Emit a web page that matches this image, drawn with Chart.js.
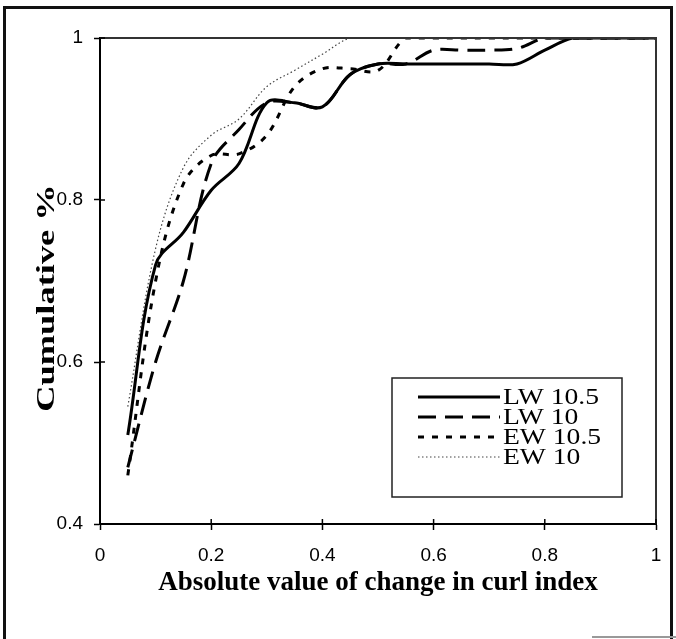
<!DOCTYPE html>
<html>
<head>
<meta charset="utf-8">
<script src="https://cdn.jsdelivr.net/npm/chart.js@4.4.1/dist/chart.umd.min.js"></script>
<style>
  html, body { margin: 0; padding: 0; background: #fff; }
  #wrap { position: relative; width: 676px; height: 639px; overflow: hidden; }
  #frame { position: absolute; left: 3px; top: 6px; width: 670px; height: 700px; border: 3px solid #111; box-sizing: border-box; }
  #scrap { position: absolute; left: 592px; top: 636px; width: 84px; height: 2px; background: #999; }
  canvas { position: absolute; left: 0; top: 0; }
</style>
</head>
<body>
<div id="wrap">
  <div id="frame"></div>
  <div id="scrap"></div>
  <canvas id="chartCanvas" width="676" height="639"></canvas>
</div>
<script>
// change in curl index (x) and cumulative share for each sample
const xValues = [0.05, 0.1, 0.15, 0.2, 0.25, 0.3, 0.35, 0.4, 0.45, 0.5, 0.55, 0.6, 0.65, 0.7, 0.75, 0.8, 0.85, 0.9, 0.95, 1.0];
const lw105 = [0.51, 0.72, 0.76, 0.812, 0.845, 0.92, 0.92, 0.915, 0.955, 0.968, 0.968, 0.968, 0.968, 0.968, 0.968, 0.985, 1, 1, 1, 1];
const lw10 = [0.47, 0.60, 0.70, 0.845, 0.887, 0.92, 0.92, 0.915, 0.955, 0.968, 0.968, 0.985, 0.985, 0.985, 0.987, 1, 1, 1, 1, 1];
const ew105 = [0.46, 0.70, 0.82, 0.855, 0.857, 0.88, 0.94, 0.962, 0.962, 0.96, 1, 1, 1, 1, 1, 1, 1, 1, 1, 1];
const ew10 = [0.545, 0.74, 0.84, 0.88, 0.90, 0.94, 0.96, 0.98, 1, 1, 1, 1, 1, 1, 1, 1, 1, 1, 1, 1];

const seriesNames = ["LW 10.5", "LW 10", "EW 10.5", "EW 10"];
const xTitle = "Absolute value of change in curl index";
const yTitle = "Cumulative %";

function toPoints(ys) {
    return xValues.map((x, i) => ({ x: x, y: ys[i] }));
}

function tickText(v) {
    return String(Math.round(v * 10) / 10);
}

// frame on top and right of the plot, plus inner half of the tick marks
const plotFrame = {
    id: "plotFrame",
    afterDraw(chart) {
        const ctx = chart.ctx;
        const a = chart.chartArea;
        ctx.save();
        ctx.strokeStyle = "#333";
        ctx.lineWidth = 2;
        ctx.beginPath();
        ctx.moveTo(a.left, a.top);
        ctx.lineTo(a.right, a.top);
        ctx.lineTo(a.right, a.bottom);
        ctx.stroke();

        ctx.strokeStyle = "#000";
        ctx.lineWidth = 1.5;
        chart.scales.x.ticks.forEach(t => {
            const px = chart.scales.x.getPixelForValue(t.value);
            ctx.beginPath();
            ctx.moveTo(px, a.bottom);
            ctx.lineTo(px, a.bottom - 5);
            ctx.stroke();
        });
        chart.scales.y.ticks.forEach(t => {
            const py = chart.scales.y.getPixelForValue(t.value);
            ctx.beginPath();
            ctx.moveTo(a.left, py);
            ctx.lineTo(a.left + 5, py);
            ctx.stroke();
        });
        ctx.restore();
    }
};

const yTitlePlugin = {
    id: "yTitlePlugin",
    afterDraw(chart) {
        const ctx = chart.ctx;
        ctx.save();
        ctx.translate(54, 298);
        ctx.rotate(-Math.PI / 2);
        ctx.scale(1.4, 1);
        ctx.font = "bold 26px 'Liberation Serif', 'Times New Roman', serif";
        ctx.textAlign = "center";
        ctx.textBaseline = "alphabetic";
        ctx.fillStyle = "#000";
        ctx.fillText(yTitle, 0, 0);
        ctx.restore();
    }
};

const boxLegend = {
    id: "boxLegend",
    afterDraw(chart) {
        const ctx = chart.ctx;
        ctx.save();
        ctx.fillStyle = "#fff";
        ctx.fillRect(392, 378, 230, 119);
        ctx.strokeStyle = "#222";
        ctx.lineWidth = 1.5;
        ctx.strokeRect(392, 378, 230, 119);
        chart.data.datasets.forEach((ds, i) => {
            const y = 397 + i * 20;
            ctx.beginPath();
            ctx.setLineDash(ds.borderDash);
            ctx.lineWidth = ds.borderWidth;
            ctx.strokeStyle = ds.borderColor;
            ctx.moveTo(418, y);
            ctx.lineTo(500, y);
            ctx.stroke();
            ctx.setLineDash([]);
            ctx.save();
            ctx.translate(503, y + 1);
            ctx.scale(1.2, 1);
            ctx.fillStyle = "#000";
            ctx.font = "23px 'Liberation Serif', 'Times New Roman', serif";
            ctx.textBaseline = "middle";
            ctx.textAlign = "left";
            ctx.fillText(ds.label, 0, 0);
            ctx.restore();
        });
        ctx.restore();
    }
};

const ctx = document.getElementById("chartCanvas").getContext("2d");

new Chart(ctx, {
    type: "line",
    data: {
        datasets: [
            { label: seriesNames[0], data: toPoints(lw105), borderColor: "#000", borderWidth: 3, borderDash: [] },
            { label: seriesNames[1], data: toPoints(lw10), borderColor: "#000", borderWidth: 3, borderDash: [18, 9] },
            { label: seriesNames[2], data: toPoints(ew105), borderColor: "#000", borderWidth: 3, borderDash: [6, 8] },
            { label: seriesNames[3], data: toPoints(ew10), borderColor: "#444", borderWidth: 1.2, borderDash: [1.5, 2.5] }
        ]
    },
    options: {
        responsive: false,
        animation: false,
        layout: { padding: { left: 0, right: 20, top: 38, bottom: 0 } },
        plugins: {
            legend: { display: false },
            tooltip: { enabled: false }
        },
        elements: {
            point: { radius: 0 },
            line: { tension: 0.35, fill: false }
        },
        scales: {
            x: {
                type: "linear",
                min: 0,
                max: 1,
                ticks: {
                    stepSize: 0.2,
                    color: "#000",
                    padding: 14,
                    maxRotation: 0,
                    callback: tickText,
                    font: { family: "'Liberation Sans', Arial, sans-serif", size: 19 }
                },
                grid: { drawOnChartArea: false, tickLength: 6, color: "#000", tickWidth: 1.5 },
                border: { color: "#000", width: 2 },
                title: {
                    display: true,
                    text: xTitle,
                    color: "#000",
                    font: { family: "'Liberation Serif', 'Times New Roman', serif", size: 27, weight: "bold" },
                    padding: { top: 0, bottom: 40 }
                },
                afterFit(scale) { scale.height = 115; }
            },
            y: {
                type: "linear",
                min: 0.4,
                max: 1,
                ticks: {
                    stepSize: 0.2,
                    color: "#000",
                    padding: 11,
                    callback: tickText,
                    font: { family: "'Liberation Sans', Arial, sans-serif", size: 19 }
                },
                grid: { drawOnChartArea: false, tickLength: 6, color: "#000", tickWidth: 1.5 },
                border: { color: "#000", width: 2 },
                afterFit(scale) { scale.width = 100; }
            }
        }
    },
    plugins: [plotFrame, yTitlePlugin, boxLegend]
});
</script>
</body>
</html>
